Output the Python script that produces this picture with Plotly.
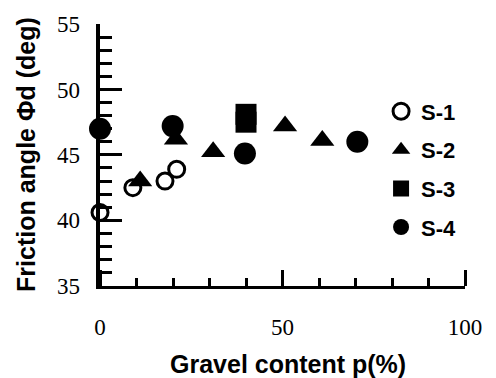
import plotly.graph_objects as go

# Data
s1_x = [0, 9, 17.8, 21.0]
s1_y = [40.6, 42.5, 43.0, 43.9]
s2_x = [11, 20.8, 31, 50.7, 60.9]
s2_y = [43.0, 46.2, 45.25, 47.2, 46.1]
s3_x = [40, 40]
s3_y = [48.1, 47.5]
s4_x = [0, 19.9, 39.7, 70.5]
s4_y = [47.0, 47.2, 45.1, 46.0]

names = ["S-1", "S-2", "S-3", "S-4"]
x_range = [0, 100]
y_range = [35, 55]

fig = go.Figure()
fig.add_trace(go.Scatter(x=s1_x, y=s1_y, mode="markers", name=names[0],
                         marker=dict(symbol="circle-open", size=16, color="black",
                                     line=dict(width=3, color="black")),
                         cliponaxis=False, legendgroup="a"))
fig.add_trace(go.Scatter(x=s2_x, y=s2_y, mode="markers", name=names[1],
                         marker=dict(symbol="triangle-up", size=21, color="black"),
                         cliponaxis=False, legendgroup="b"))
fig.add_trace(go.Scatter(x=s3_x, y=s3_y, mode="markers", name=names[2],
                         marker=dict(symbol="square", size=21, color="black"),
                         cliponaxis=False, legendgroup="c"))
fig.add_trace(go.Scatter(x=s4_x, y=s4_y, mode="markers", name=names[3],
                         marker=dict(symbol="circle", size=22, color="black"),
                         cliponaxis=False, legendgroup="d"))
# empty traces that carry the helper overlay axes (labels / upward x ticks)
fig.add_trace(go.Scatter(x=[], y=[], xaxis="x2", yaxis="y2", showlegend=False,
                         hoverinfo="skip"))
fig.add_trace(go.Scatter(x=[], y=[], xaxis="x3", yaxis="y", showlegend=False,
                         hoverinfo="skip"))

tickfont = dict(family="Liberation Serif, Times New Roman, serif", size=23, color="black")
titlefont = dict(family="Liberation Sans, Arial, sans-serif", size=25, color="black", weight="bold")

y_dom0 = 0.0878

fig.update_layout(
    width=496, height=378,
    margin=dict(l=80, r=31, t=15, b=67),
    paper_bgcolor="white", plot_bgcolor="white",
    showlegend=True,
    legend=dict(x=0.782, y=0.7686, xanchor="left", yanchor="top",
                font=dict(family="Liberation Sans, Arial, sans-serif", size=22,
                          color="black", weight="bold"),
                tracegroupgap=7, bgcolor="rgba(0,0,0,0)"),
    # main axes: lines and ticks
    xaxis=dict(range=x_range, domain=[0.052, 1], anchor="y",
               showgrid=False, zeroline=False,
               showline=True, linecolor="black", linewidth=3,
               tick0=0, dtick=50, showticklabels=False,
               ticks="inside", ticklen=16, tickwidth=3, tickcolor="black",
               minor=dict(dtick=10, ticks="inside", ticklen=8, tickwidth=3,
                          tickcolor="black")),
    yaxis=dict(range=y_range, domain=[y_dom0, 1], anchor="x",
               showgrid=False, zeroline=False,
               showline=True, linecolor="black", linewidth=4,
               tick0=35, dtick=5, showticklabels=False,
               ticks="inside", ticklen=22, tickwidth=3, tickcolor="black",
               minor=dict(dtick=1, ticks="inside", ticklen=12, tickwidth=3,
                          tickcolor="black")),
    # label-only axes placed lower / further left
    xaxis2=dict(range=x_range, overlaying="x", anchor="free", position=0,
                side="bottom", showgrid=False, zeroline=False, showline=False,
                tick0=0, dtick=50, ticks="", tickfont=tickfont),
    yaxis2=dict(range=y_range, overlaying="y", anchor="free", position=0,
                side="left", showgrid=False, zeroline=False, showline=False,
                tick0=35, dtick=5, ticks="", tickfont=tickfont),
    # upward-pointing x ticks drawn on the x axis line
    xaxis3=dict(range=x_range, overlaying="x", anchor="free", position=y_dom0,
                side="top", showgrid=False, zeroline=False, showline=False,
                tick0=0, dtick=50, showticklabels=False,
                ticks="outside", ticklen=16, tickwidth=3, tickcolor="black",
                minor=dict(dtick=10, ticks="outside", ticklen=8, tickwidth=3,
                           tickcolor="black")),
    annotations=[
        dict(text="Gravel content p(%)", xref="x domain", yref="y domain",
             x=0.515, y=0, xanchor="center", yanchor="middle", yshift=-78,
             showarrow=False, font=titlefont),
        dict(text="Friction angle Φd (deg)", xref="x domain", yref="y domain",
             x=0, y=0.5, xanchor="center", yanchor="middle", xshift=-74,
             textangle=-90, showarrow=False, font=titlefont),
    ],
)

fig.write_html("out.html")
